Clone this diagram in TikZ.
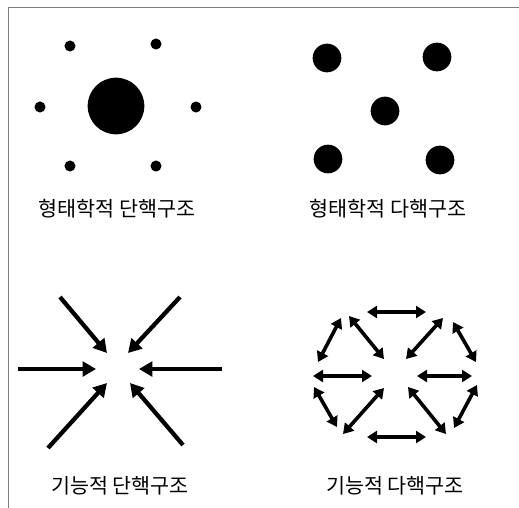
\documentclass[tikz,border=0pt]{standalone}
\usepackage{fontspec}
\newfontfamily\kofont{Noto Sans CJK KR}
\usetikzlibrary{arrows.meta, positioning}

\tikzset{
  dot/.style={circle, fill=black, inner sep=0pt},
  structname/.style={font=\kofont\fontsize{15.5pt}{18pt}\selectfont, inner sep=0pt},
  inarrow/.style={line width=3.2pt, -{Triangle[length=10pt, width=11pt]}},
  twoway/.style={line width=2.7pt, {Triangle[length=7.5pt, width=9pt]}-{Triangle[length=7.5pt, width=9pt]}}
}

\begin{document}
\begin{tikzpicture}[x=0.75pt, y=-0.75pt]

    \useasboundingbox (0,0) rectangle (519,508);

    % --- Frame ---
    \draw[line width=1.3pt, black!50] (8.5,508) -- (8.5,7.5) -- (519,7.5);

    % --- Morphological, single core ---
    \node[dot, minimum size=42.5pt] (core) at (116,106) {};
    \foreach \n/\px/\py in {1/70/46, 2/156/44, 3/40/107, 4/196/107, 5/70/166, 6/156/166}
        \node[dot, minimum size=8.3pt] (sat\n) at (\px,\py) {};
    \node[structname] (mono) at (117,209) {형태학적 단핵구조};

    % --- Morphological, multi core ---
    \foreach \n/\px/\py in {1/327/58, 2/437/57, 3/385/111, 4/328/159, 5/440/160}
        \node[dot, minimum size=21.5pt] (core\n) at (\px,\py) {};
    \node[structname] (multi) at (388,209) {형태학적 다핵구조};

    % --- Functional, single core ---
    \foreach \n/\sx/\sy/\ex/\ey in {1/60/297/107/353, 2/180/297/128/353,
        3/18/369/96/369, 4/222/369/139/369, 5/48/448/107/383, 6/183/445/130/383} {
        \coordinate (in\n) at (\sx,\sy);
        \coordinate (hub\n) at (\ex,\ey);
        \draw[inarrow] (in\n) -- (hub\n);
    }
    \node[structname] (fmono) at (120,486) {기능적 단핵구조};

    % --- Functional, multi core ---
    \foreach \n/\sx/\sy/\ex/\ey in {1/367/312/426/312, 2/367/437/426/437,
        3/313/376/372/376, 4/417/376/472/376,
        5/341/318/318/362, 6/349/316/384/359, 7/443/318/406/359, 8/453/322/476/362,
        9/314/387/337/427, 10/384/388/343/434, 11/408/387/446/434, 12/477/385/454/428} {
        \coordinate (a\n) at (\sx,\sy);
        \coordinate (b\n) at (\ex,\ey);
        \draw[twoway] (a\n) -- (b\n);
    }
    \node[structname] (fmulti) at (395,486) {기능적 다핵구조};

\end{tikzpicture}
\end{document}
